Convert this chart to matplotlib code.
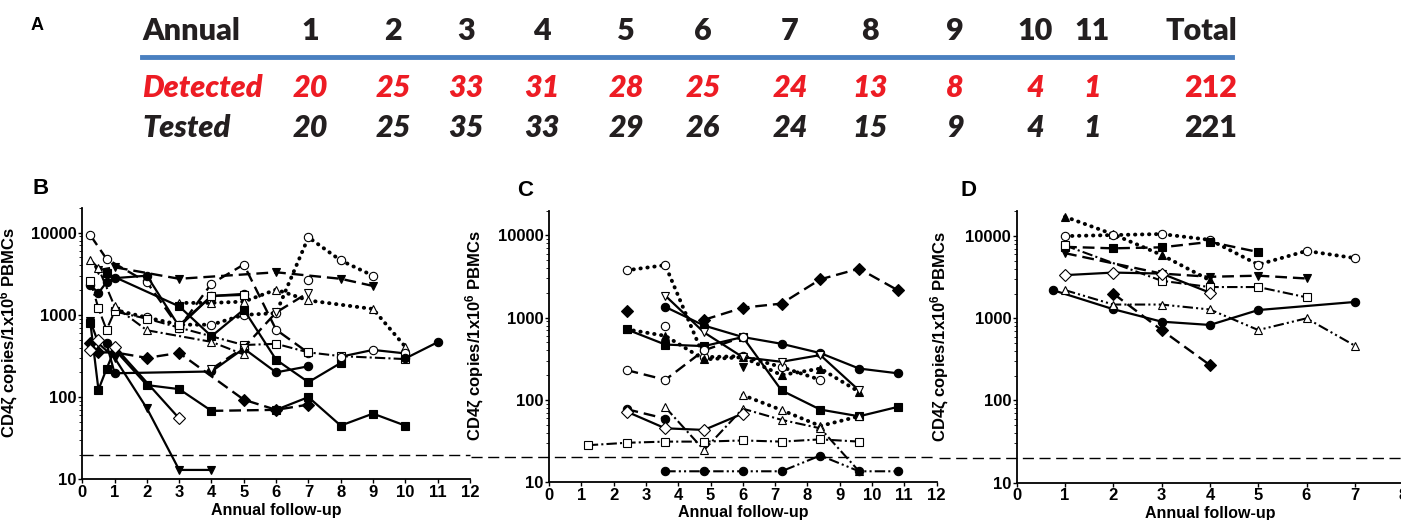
import matplotlib
matplotlib.use("Agg")
import matplotlib.pyplot as plt

plt.rcParams['font.family'] = ['Liberation Sans', 'DejaVu Sans']
plt.rcParams['mathtext.fontset'] = 'custom'
plt.rcParams['mathtext.bf'] = 'Liberation Sans:bold'
plt.rcParams['mathtext.rm'] = 'Liberation Sans:bold'
plt.rcParams['mathtext.default'] = 'bf'

# ---- table (panel A) ----
YEARS = ['1', '2', '3', '4', '5', '6', '7', '8', '9', '10', '11']
DETECTED = [20, 25, 33, 31, 28, 25, 24, 13, 8, 4, 1]
TESTED = [20, 25, 35, 33, 29, 26, 24, 15, 9, 4, 1]
DETECTED_TOTAL = 212
TESTED_TOTAL = 221

# ---- panel B ----
B_X = [
    [0.25, 0.75, 2, 3, 4, 5, 6, 7],
    [0.5, 1, 3, 6, 8, 9],
    [1, 2, 3, 4, 5, 6, 7, 8, 9],
    [3, 4, 5, 6, 7, 9, 10],
    [0.25, 0.5, 0.75, 1, 2, 3, 4, 5],
    [0.75, 3, 4, 5, 6, 7, 8],
    [0.75, 1, 4, 5, 6, 7],
    [0.25, 0.5, 0.75, 1, 2, 3, 4],
    [4, 6],
    [6, 7, 8, 9, 10],
    [0.25, 0.5, 1, 2, 3, 5, 6, 7],
    [0.25, 0.5, 1, 2, 3, 4],
    [0.25, 0.5, 1, 3],
    [0.25, 0.5, 0.75, 1, 2, 3, 5, 6, 7, 8, 10],
    [0.25, 0.5, 1, 2, 4, 5],
    [8, 9, 10],
    [10, 11],
    [4, 5, 6, 7],
    [3, 4, 5],
    [7],
]
B_Y = [
    [9300, 4800, 2500, 700, 2400, 4100, 660, 345],
    [3500, 3800, 2750, 3300, 2750, 2250],
    [1150, 930, 760, 760, 1000, 1050, 8800, 4600, 3000],
    [1400, 1400, 1450, 2030, 1500, 1180, 410],
    [2300, 1850, 2500, 2800, 3000, 720, 1700, 1800],
    [3200, 1270, 550, 1160, 285, 152, 260],
    [450, 195, 205, 390, 200, 237],
    [800, 123, 220, 380, 140, 125, 68],
    [68, 70],
    [70, 100, 45, 63, 45],
    [450, 350, 350, 300, 345, 93, 70, 81],
    [840, 450, 300, 73, 13, 13],
    [375, 500, 410, 55],
    [2600, 1200, 660, 1100, 900, 700, 430, 445, 350, 315, 290],
    [4700, 3700, 1270, 650, 470, 330],
    [310, 375, 340],
    [295, 465],
    [220, 400, 1070, 1870],
    [750, 1700, 1750],
    [2650],
]
B_MARK = ['o', 'v', 'o', '^', 'o', 's', 'o', 's', '', 's', 'D', 'v', 'D', 's', '^',
          'o', 'o', 'v', 's', 'o']
B_FILL = [0, 1, 0, 0, 1, 1, 1, 1, 1, 1, 1, 1, 0, 0, 0, 0, 1, 0, 0, 0]
B_LS = ['dash', 'dash', 'dot', 'dot', 'solid', 'solid', 'solid', 'solid', 'dash', 'solid',
        'dash', 'solid', 'solid', 'dashdot', 'dashdot', 'solid', 'solid', 'dash', 'solid', 'none']

# ---- panel C ----
C_X = [
    [4.8, 6, 7.2, 8.4, 9.6, 10.8],
    [2.4],
    [2.4, 3.6, 4.8, 6, 7.2, 8.4],
    [2.4, 3.6, 4.8, 6, 7.2, 8.4, 9.6],
    [3.6, 4.8, 6, 7.2, 8.4, 9.6, 10.8],
    [3.6, 4.8, 6, 7.2, 8.4, 9.6],
    [2.4, 3.6, 4.8, 6, 7.2, 8.4, 9.6, 10.8],
    [2.4, 3.6, 4.8, 6],
    [6],
    [3.6],
    [6, 7.2, 8.4, 9.6],
    [2.4, 3.6],
    [3.6, 4.8, 6, 7.2, 8.4, 9.6],
    [2.4, 3.6, 4.8, 6],
    [1.2, 2.4, 3.6, 4.8, 6, 7.2, 8.4, 9.6],
    [3.6, 4.8, 6, 7.2, 8.4, 9.6, 10.8],
]
C_Y = [
    [940, 1320, 1480, 2920, 3940, 2150],
    [1200],
    [3760, 4350, 330, 340, 250, 175],
    [720, 600, 310, 330, 200, 240, 125],
    [1350, 800, 580, 480, 370, 240, 210],
    [1850, 660, 330, 290, 350, 130],
    [720, 470, 450, 580, 130, 76, 63, 82],
    [230, 175, 400, 580],
    [250],
    [790],
    [114, 75, 48, 63],
    [77, 59],
    [81, 24.5, 78, 57, 45, 13.5],
    [72, 45, 43, 68],
    [28, 30, 31, 31, 32, 31, 33, 31],
    [13.5, 13.5, 13.5, 13.5, 21, 13.5, 13.5],
]
C_MARK = ['D', 'D', 'o', '^', 'o', 'v', 's', 'o', 'v', 'o', '^', 'o', '^', 'D', 's', 'o']
C_FILL = [1, 1, 0, 1, 1, 0, 1, 0, 1, 0, 0, 1, 0, 0, 0, 1]
C_LS = ['dash', 'none', 'dot', 'dot', 'solid', 'solid', 'solid', 'dash', 'none', 'none',
        'dot', 'dash', 'dashdot', 'solid', 'dashdot', 'dashdotdot']

# ---- panel D ----
D_X = [
    [1, 2, 3, 4],
    [1, 2, 3, 4, 5, 6, 7],
    [1, 2, 3, 4, 5],
    [1, 3, 4, 5, 6],
    [1, 3, 4, 5, 6],
    [1, 2, 3, 4],
    [0.75, 2, 3, 4, 5, 7],
    [1, 2, 3, 4, 5, 6, 7],
    [2, 3, 4],
]
D_Y = [
    [17200, 10500, 5900, 2900],
    [10000, 10300, 10600, 9000, 4500, 6600, 5400],
    [7400, 7100, 7300, 8500, 6400],
    [6200, 3500, 3200, 3300, 3050],
    [7700, 2860, 2400, 2400, 1800],
    [3350, 3600, 3500, 2050],
    [2200, 1290, 910, 830, 1260, 1580],
    [2200, 1470, 1470, 1280, 720, 1000, 465],
    [2000, 720, 270],
]
D_MARK = ['^', 'o', 's', 'v', 's', 'D', 'o', '^', 'D']
D_FILL = [1, 0, 1, 1, 0, 0, 1, 0, 1]
D_LS = ['dot', 'dot', 'dash', 'dash', 'dashdot', 'solid', 'solid', 'dashdotdot', 'dash']

LIMIT = 20
YLABEL = 'CD4ζ copies/1x10$^{6}$ PBMCs'

STYLES = {
    'solid': dict(linestyle='-', lw=1.6),
    'dash': dict(linestyle=(0, (5, 2.5)), lw=1.7),
    'dot': dict(linestyle=(0, (0.1, 1.7)), lw=2.8, dash_capstyle='round'),
    'dashdot': dict(linestyle=(0, (5, 1.5, 1, 1.5)), lw=1.5),
    'dashdotdot': dict(linestyle=(0, (5, 1.5, 1, 1.5, 1, 1.5)), lw=1.5),
    'none': dict(linestyle='none'),
}

W, H = 1401, 520
fig = plt.figure(figsize=(W / 100, H / 100), dpi=100)


def fx(px):
    return px / W


def fy(py):
    return 1 - py / H


# ---- table ----
TABLE_FONT = ['Lato', 'DejaVu Sans']
INK = '#231f20'
RED = '#ed1c24'
fig.text(fx(37), fy(25), 'A', fontsize=13, fontweight='bold', ha='center', va='center')
cols = [310, 393, 466, 542, 626, 703, 790, 870, 955, 1035, 1092]
fig.text(fx(142), fy(40), 'Annual', fontsize=22, fontweight='heavy', family=TABLE_FONT,
         ha='left', va='baseline', color=INK)
fig.text(fx(142), fy(97), 'Detected', fontsize=22, fontweight='heavy', style='italic',
         family=TABLE_FONT, ha='left', va='baseline', color=RED)
fig.text(fx(142), fy(137), 'Tested', fontsize=22, fontweight='heavy', style='italic',
         family=TABLE_FONT, ha='left', va='baseline', color=INK)
for c, yr, d, t in zip(cols, YEARS, DETECTED, TESTED):
    fig.text(fx(c), fy(40), yr, fontsize=22, fontweight='heavy', family=TABLE_FONT,
             ha='center', va='baseline', color=INK)
    fig.text(fx(c), fy(97), str(d), fontsize=22, fontweight='heavy', style='italic',
             family=TABLE_FONT, ha='center', va='baseline', color=RED)
    fig.text(fx(c), fy(137), str(t), fontsize=22, fontweight='heavy', style='italic',
             family=TABLE_FONT, ha='center', va='baseline', color=INK)
fig.text(fx(1237), fy(40), 'Total', fontsize=22, fontweight='heavy', family=TABLE_FONT,
         ha='right', va='baseline', color=INK)
fig.text(fx(1237), fy(97), str(DETECTED_TOTAL), fontsize=22, fontweight='heavy',
         family=TABLE_FONT, ha='right', va='baseline', color=RED)
fig.text(fx(1237), fy(137), str(TESTED_TOTAL), fontsize=22, fontweight='heavy',
         family=TABLE_FONT, ha='right', va='baseline', color=INK)
fig.add_artist(plt.Line2D([fx(142), fx(1232)], [fy(57), fy(57)], color='#4a80c0', lw=3.5))


def panel(left, xpx_per, bottom, letter, letter_xy, xmax, xticks,
          X, Y, MARK, FILL, LS, line_from, labelx):
    decade = 82.2
    ax = fig.add_axes([fx(left), (H - bottom) / H, xpx_per * xmax / W,
                       decade * 3.30103 / H])
    ax.set_yscale('log')
    ax.set_xlim(0, xmax)
    ax.set_ylim(10, 20000)
    for x, y, m, f, ls in zip(X, Y, MARK, FILL, LS):
        ax.plot(x, y, color='k', marker=m if m else None, ms=6, mec='k', mew=0.8,
                mfc='k' if f else 'w', clip_on=False, zorder=3, **STYLES[ls])
    ax.plot([line_from, xmax], [LIMIT, LIMIT], color='k', lw=1.0,
            linestyle=(0, (8, 4)), clip_on=False)
    for s in ['top', 'right']:
        ax.spines[s].set_visible(False)
    for s in ['left', 'bottom']:
        ax.spines[s].set_linewidth(1.3)
    ax.set_xticks(xticks)
    ax.set_yticks([10, 100, 1000, 10000])
    ax.set_yticklabels(['10', '100', '1000', '10000'])
    ax.tick_params(axis='both', labelsize=12, width=1.0, length=3, pad=1)
    ax.tick_params(axis='y', which='minor', length=2, width=0.6)
    for lab in ax.get_xticklabels() + ax.get_yticklabels():
        lab.set_fontweight('bold')
    ax.set_xlabel('Annual follow-up', fontsize=11.5, fontweight='bold', labelpad=2)
    ax.set_ylabel(YLABEL, fontsize=12, fontweight='bold')
    ax.yaxis.set_label_coords(labelx, 0.54)
    fig.text(fx(letter_xy[0]), fy(letter_xy[1]), letter, fontsize=16, fontweight='bold',
             ha='center', va='center')
    return ax


panel(82.3, 32.3, 479.3, 'B', (41, 188), 12, range(0, 13),
      B_X, B_Y, B_MARK, B_FILL, B_LS, 0, -0.16)
panel(549, 32.3, 482, 'C', (525, 190), 12, range(0, 13),
      C_X, C_Y, C_MARK, C_FILL, C_LS, -2.4, -0.162)
panel(1016.7, 48.3, 482.7, 'D', (968, 190), 8, range(0, 9),
      D_X, D_Y, D_MARK, D_FILL, D_LS, -1.6, -0.17)

fig.savefig('out.png', dpi=100)
